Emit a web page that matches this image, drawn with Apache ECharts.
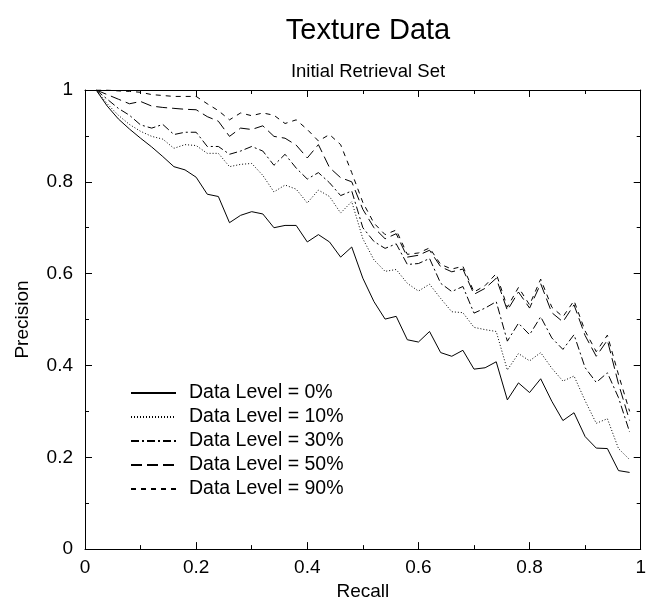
<!DOCTYPE html>
<html>
<head>
<meta charset="utf-8">
<script src="https://cdn.jsdelivr.net/npm/echarts@6/dist/echarts.min.js"></script>
<style>
html,body{margin:0;padding:0;background:#fff;}
#chart{width:649px;height:606px;}
</style>
</head>
<body>
<div id="chart"></div>
<script>
// Recall values (x), 0.02 .. 0.98
const recall = [0.02,0.04,0.06,0.08,0.10,0.12,0.14,0.16,0.18,0.20,0.22,0.24,0.26,0.28,0.30,0.32,0.34,0.36,0.38,0.40,0.42,0.44,0.46,0.48,0.50,0.52,0.54,0.56,0.58,0.60,0.62,0.64,0.66,0.68,0.70,0.72,0.74,0.76,0.78,0.80,0.82,0.84,0.86,0.88,0.90,0.92,0.94,0.96,0.98];

const level0 = [1.0,0.965,0.937,0.915,0.895,0.876,0.855,0.833,0.826,0.81,0.773,0.768,0.711,0.727,0.735,0.73,0.70,0.705,0.705,0.669,0.685,0.669,0.636,0.658,0.59,0.539,0.501,0.507,0.456,0.451,0.474,0.428,0.42,0.433,0.392,0.395,0.408,0.325,0.362,0.341,0.371,0.322,0.28,0.297,0.245,0.22,0.219,0.171,0.167];

const level10 = [1.0,0.97,0.945,0.925,0.91,0.899,0.893,0.873,0.881,0.879,0.862,0.862,0.833,0.838,0.84,0.814,0.778,0.793,0.784,0.754,0.782,0.768,0.732,0.757,0.676,0.63,0.605,0.609,0.579,0.562,0.577,0.546,0.517,0.515,0.483,0.478,0.474,0.39,0.426,0.41,0.428,0.394,0.366,0.377,0.323,0.274,0.284,0.219,0.195];

const level30 = [1.0,0.98,0.96,0.945,0.924,0.917,0.925,0.903,0.908,0.908,0.877,0.877,0.86,0.867,0.877,0.867,0.836,0.86,0.83,0.806,0.82,0.798,0.77,0.78,0.70,0.67,0.655,0.665,0.62,0.622,0.633,0.579,0.561,0.572,0.514,0.525,0.539,0.453,0.492,0.467,0.506,0.46,0.435,0.467,0.395,0.363,0.384,0.33,0.255];

const level50 = [1.0,0.99,0.98,0.97,0.975,0.965,0.962,0.96,0.958,0.957,0.942,0.932,0.899,0.917,0.914,0.922,0.899,0.895,0.88,0.852,0.881,0.831,0.809,0.80,0.74,0.70,0.676,0.687,0.636,0.64,0.651,0.615,0.604,0.61,0.555,0.568,0.59,0.52,0.56,0.525,0.578,0.515,0.495,0.532,0.465,0.42,0.455,0.36,0.28];

const level90 = [1.0,1.0,0.998,0.997,0.995,0.99,0.988,0.986,0.986,0.986,0.97,0.955,0.935,0.95,0.944,0.95,0.945,0.927,0.935,0.914,0.889,0.903,0.881,0.82,0.755,0.71,0.685,0.695,0.642,0.645,0.656,0.62,0.61,0.616,0.56,0.574,0.60,0.527,0.57,0.532,0.588,0.527,0.506,0.541,0.475,0.43,0.466,0.38,0.30];

const seriesNames = ['Data Level = 0%','Data Level = 10%','Data Level = 30%','Data Level = 50%','Data Level = 90%'];
const seriesValues = [level0, level10, level30, level50, level90];
const dashTypes = ['solid', [1,2], [8,3,2,3], [11,5], [5,5]];

const xTicks = [0, 0.2, 0.4, 0.6, 0.8, 1];
const yTicks = [0, 0.2, 0.4, 0.6, 0.8, 1];

const FONT = 'Liberation Sans, Arial, Helvetica, sans-serif';

function pairs(vals){ return recall.map((r,i)=>[r, vals[i]]); }

const chart = echarts.init(document.getElementById('chart'), null, {renderer:'canvas'});

const axisCommon = {
  min: 0, max: 1, interval: 0.2,
  axisLine: {show:true, onZero:false, lineStyle:{color:'#000', width:1}},
  axisTick: {show:true, inside:true, length:7, lineStyle:{color:'#000'}},
  minorTick: {show:true, splitNumber:2, length:4, lineStyle:{color:'#000'}},
  splitLine: {show:false},
};

chart.setOption({
  animation: false,
  backgroundColor: '#fff',
  title: [
    {text:'Texture Data', left: 363, textAlign:'center', top: 11,
     textStyle:{fontFamily:FONT, fontSize:29, fontWeight:'normal', color:'#000'}},
    {text:'Initial Retrieval Set', left: 363, textAlign:'center', top: 57,
     textStyle:{fontFamily:FONT, fontSize:18.5, fontWeight:'normal', color:'#000'}}
  ],
  grid: {left:85, top:90, right:8, bottom:54, containLabel:false},
  legend: {
    orient:'vertical', left:125, top:378,
    itemWidth:45, itemHeight:14, itemGap:4,
    data: seriesNames,
    itemStyle:{opacity:0},
    textStyle:{fontFamily:FONT, fontSize:19.5, color:'#000', padding:[0,0,0,8]},
    inactiveColor:'#000'
  },
  xAxis: [
    Object.assign({}, axisCommon, {
      type:'value', position:'bottom',
      name:'Recall', nameLocation:'middle', nameGap:32,
      nameTextStyle:{fontFamily:FONT, fontSize:19, color:'#000'},
      axisLabel:{show:true, fontFamily:FONT, fontSize:19, color:'#000', margin:9,
        formatter: v => xTicks.indexOf(+v.toFixed(2))>=0 ? String(+v.toFixed(2)) : ''}
    }),
    Object.assign({}, axisCommon, {type:'value', position:'top', axisLabel:{show:false}})
  ],
  yAxis: [
    Object.assign({}, axisCommon, {
      type:'value', position:'left',
      name:'Precision', nameLocation:'middle', nameGap:53, nameRotate:90,
      nameTextStyle:{fontFamily:FONT, fontSize:19, color:'#000'},
      axisLabel:{show:true, fontFamily:FONT, fontSize:19, color:'#000', margin:12,
        formatter: v => yTicks.indexOf(+v.toFixed(2))>=0 ? String(+v.toFixed(2)) : ''}
    }),
    Object.assign({}, axisCommon, {type:'value', position:'right', axisLabel:{show:false}})
  ],
  series: seriesNames.map((name,i)=>({
    name, type:'line', xAxisIndex:0, yAxisIndex:0,
    data: pairs(seriesValues[i]),
    symbol:'none', showSymbol:false,
    lineStyle:{color:'#000', width:1, type: dashTypes[i]},
    itemStyle:{color:'#000'},
    emphasis:{disabled:true}
  }))
});
</script>
</body>
</html>
